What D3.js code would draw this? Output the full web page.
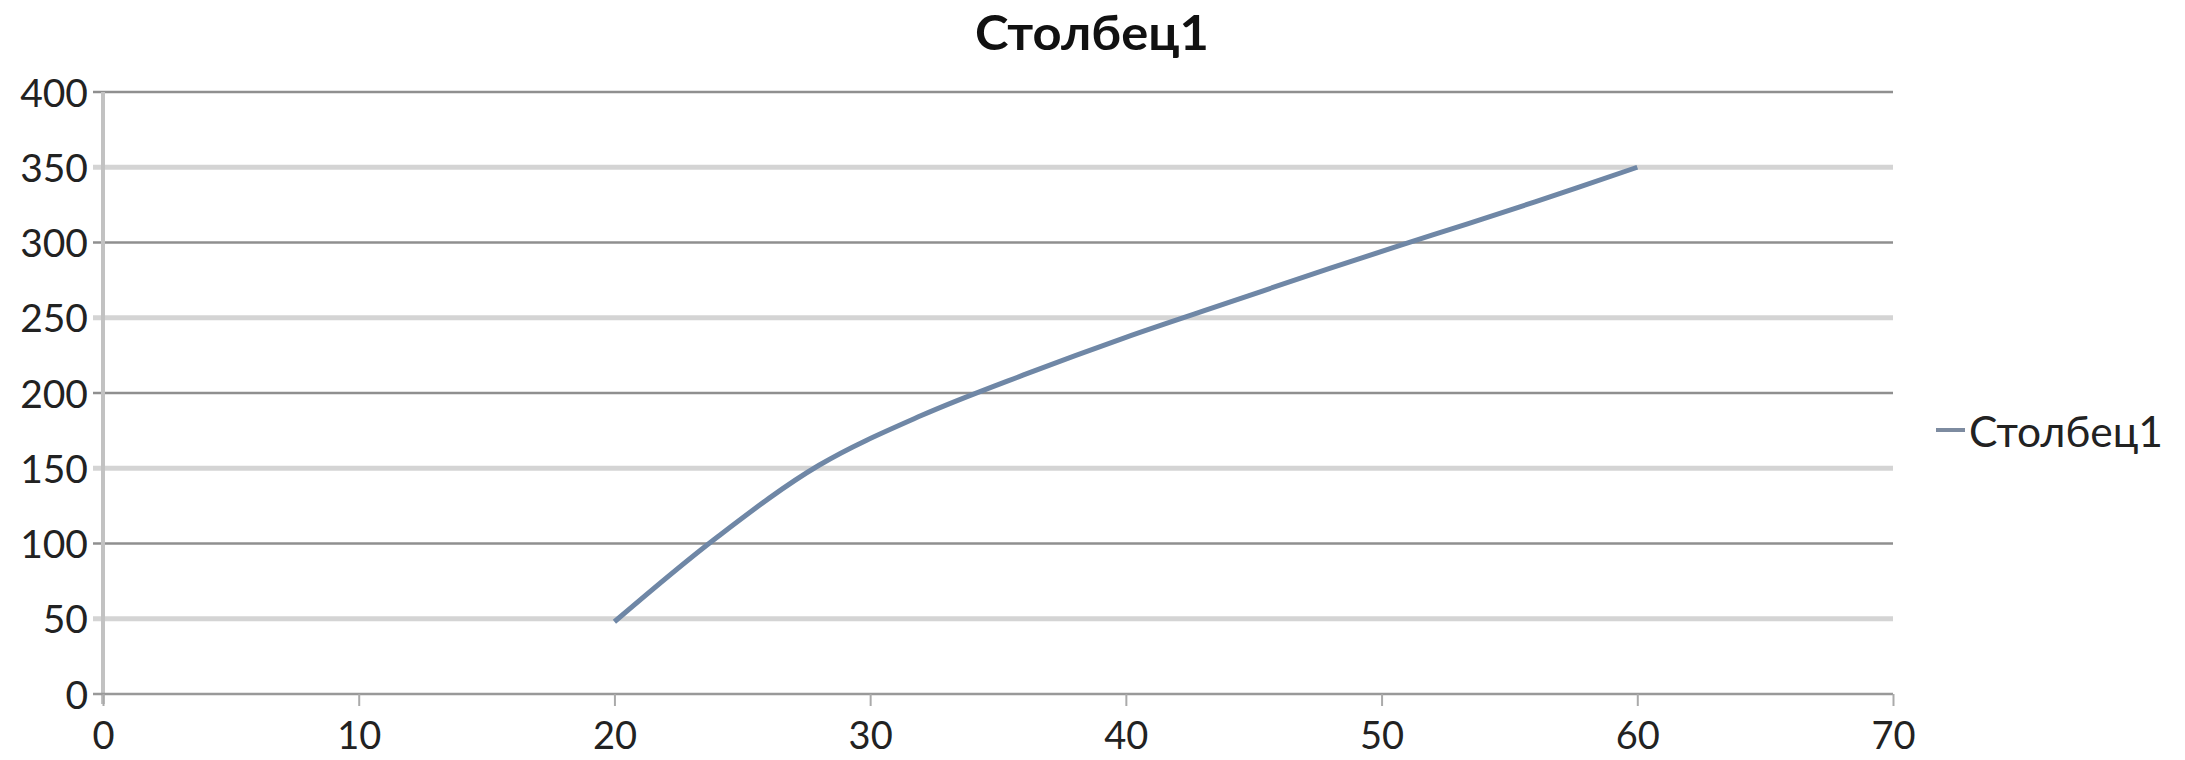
<!DOCTYPE html>
<html><head><meta charset="utf-8">
<script src="https://cdn.jsdelivr.net/npm/d3@7"></script>
<style>html,body{margin:0;padding:0;background:#fff;}svg{display:block;}</style>
</head><body>
<svg id="c" width="2185" height="760"></svg>
<script>
const title = "Столбец1";
const seriesName = "Столбец1";
const xValues = [20, 24, 28, 32, 36, 40, 44, 48, 52, 56, 60];
const yValues = [48, 104, 152, 185, 212, 237, 260, 283, 305, 327, 350];
const xTicks = [0, 10, 20, 30, 40, 50, 60, 70];
const yTicks = [0, 50, 100, 150, 200, 250, 300, 350, 400];

const svg = d3.select("#c");
const font = "Lato, 'Open Sans', sans-serif";
const x = d3.scaleLinear().domain([0, 70]).range([103, 1893]);
const y = d3.scaleLinear().domain([0, 400]).range([694, 92]);

// gridlines (alternating rendering as in the reference)
svg.append("g").selectAll("line").data(yTicks.filter(d => d > 0)).join("line")
  .attr("x1", 93).attr("x2", x(70))
  .attr("y1", d => y(d)).attr("y2", d => y(d))
  .attr("stroke", d => d % 100 === 0 ? "#8f8f8f" : "#d4d4d4")
  .attr("stroke-width", d => d % 100 === 0 ? 2.5 : 5);

// y axis line
svg.append("line").attr("x1", x(0)).attr("x2", x(0)).attr("y1", y(400)).attr("y2", 704)
  .attr("stroke", "#c2c2c2").attr("stroke-width", 4);

// x axis
const xAxis = d3.axisBottom(x).tickValues(xTicks).tickSize(12).tickPadding(16).tickFormat(d3.format("d"));
const gx = svg.append("g").attr("transform", `translate(0,${y(0)})`).call(xAxis);
gx.select(".domain").attr("stroke", "#999").attr("stroke-width", 2.5).attr("d", `M93,0H${x(70)}`);
gx.selectAll(".tick line").attr("stroke", "#aaa").attr("stroke-width", 2);
gx.selectAll(".tick text").attr("font-family", font).attr("font-size", 38).attr("fill", "#222").attr("dy", "0.71em");

// y axis labels
const yAxis = d3.axisLeft(y).tickValues(yTicks).tickSize(0).tickPadding(15).tickFormat(d3.format("d"));
const gy = svg.append("g").attr("transform", `translate(${x(0)},0)`).call(yAxis);
gy.select(".domain").remove();
gy.selectAll(".tick text").attr("font-family", font).attr("font-size", 39).attr("fill", "#222").attr("dy", "0.36em");

// series line
const line = d3.line().x((d, i) => x(xValues[i])).y(d => y(d)).curve(d3.curveCatmullRom.alpha(0.5));
svg.append("path").datum(yValues).attr("d", line)
  .attr("fill", "none").attr("stroke", "#6f87a6").attr("stroke-width", 5).attr("stroke-linecap", "butt");

// title
svg.append("text").attr("x", 1092).attr("y", 50).attr("text-anchor", "middle")
  .attr("font-family", font).attr("font-weight", "bold").attr("font-size", 48).attr("fill", "#111")
  .attr("textLength", 234).attr("lengthAdjust", "spacingAndGlyphs").text(title);

// legend
svg.append("line").attr("x1", 1936).attr("x2", 1965).attr("y1", 430).attr("y2", 430)
  .attr("stroke", "#7d8ba0").attr("stroke-width", 4);
svg.append("text").attr("x", 1969).attr("y", 447)
  .attr("font-family", font).attr("font-size", 42).attr("fill", "#222")
  .attr("textLength", 194).attr("lengthAdjust", "spacingAndGlyphs").text(seriesName);
</script>
</body></html>
